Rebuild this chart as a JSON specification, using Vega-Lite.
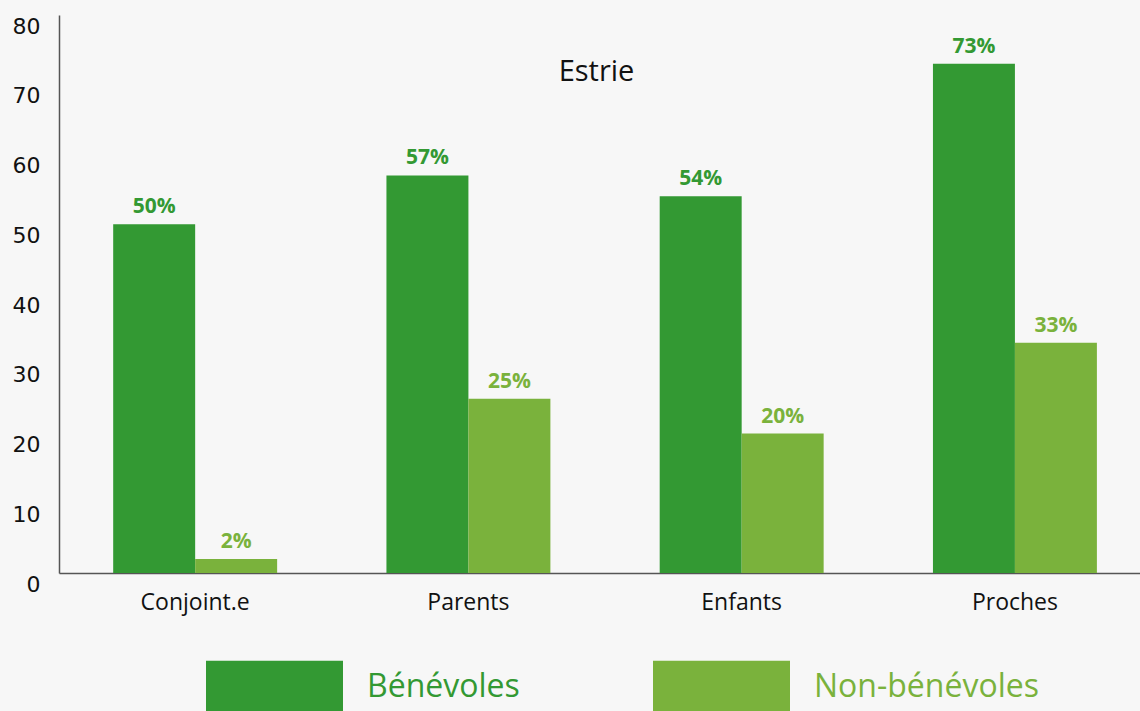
{
  "$schema": "https://vega.github.io/schema/vega-lite/v6.json",
  "width": 1081,
  "height": 558,
  "autosize": {"type": "none"},
  "padding": {"left": 59, "top": 15, "right": 0, "bottom": 138},
  "background": "#f7f7f7",
  "title": {
    "text": "Estrie",
    "orient": "top",
    "anchor": "middle",
    "frame": "group",
    "offset": -86,
    "baseline": "middle",
    "dx": -3,
    "font": "Open Sans",
    "fontSize": 29,
    "fontWeight": "normal",
    "color": "#111111"
  },
  "config": {"view": {"stroke": null}},
  "data": {
    "values": [
      {"cat": "Conjoint.e", "group": "Bénévoles", "value": 50, "label": "50%"},
      {"cat": "Conjoint.e", "group": "Non-bénévoles", "value": 2, "label": "2%"},
      {"cat": "Parents", "group": "Bénévoles", "value": 57, "label": "57%"},
      {"cat": "Parents", "group": "Non-bénévoles", "value": 25, "label": "25%"},
      {"cat": "Enfants", "group": "Bénévoles", "value": 54, "label": "54%"},
      {"cat": "Enfants", "group": "Non-bénévoles", "value": 20, "label": "20%"},
      {"cat": "Proches", "group": "Bénévoles", "value": 73, "label": "73%"},
      {"cat": "Proches", "group": "Non-bénévoles", "value": 33, "label": "33%"}
    ]
  },
  "encoding": {
    "x": {
      "field": "cat",
      "type": "nominal",
      "sort": ["Conjoint.e", "Parents", "Enfants", "Proches"],
      "scale": {"paddingInner": 0.4, "paddingOuter": 0.178, "align": 0.557},
      "axis": {
        "title": null,
        "labelAngle": 0,
        "ticks": false,
        "domainColor": "#555555",
        "domainWidth": 1.5,
        "labelFont": "Open Sans",
        "labelFontSize": 23,
        "labelColor": "#111111",
        "labelPadding": 18
      }
    },
    "xOffset": {"field": "group", "type": "nominal", "sort": ["Bénévoles", "Non-bénévoles"], "scale": {"paddingInner": 0}},
    "y": {
      "field": "value",
      "type": "quantitative",
      "stack": null,
      "scale": {"domain": [0, 80]},
      "axis": {
        "title": null,
        "values": [0, 10, 20, 30, 40, 50, 60, 70, 80],
        "grid": false,
        "ticks": false,
        "domainColor": "#555555",
        "domainWidth": 1.5,
        "labelFont": "DejaVu Sans",
        "labelFontSize": 22,
        "labelColor": "#111111",
        "labelPadding": 19,
        "labelOffset": 11,
        "labelFlush": false,
        "labelOverlap": false
      }
    },
    "color": {
      "field": "group",
      "type": "nominal",
      "sort": ["Bénévoles", "Non-bénévoles"],
      "scale": {"domain": ["Bénévoles", "Non-bénévoles"], "range": ["#339933", "#7ab23c"]},
      "legend": {
        "title": null,
        "orient": "none",
        "legendX": 147,
        "legendY": 603,
        "direction": "horizontal",
        "columns": 2,
        "symbolType": "M-1,-0.38L1,-0.38L1,0.38L-1,0.38Z",
        "symbolSize": 18769,
        "symbolStrokeWidth": 0,
        "symbolOpacity": 1,
        "labelFont": "Open Sans",
        "labelFontSize": 32,
        "labelOffset": 24,
        "labelLimit": 400,
        "columnPadding": 133,
        "labelColor": {"expr": "datum.value == 'Bénévoles' ? '#339933' : '#7ab23c'"}
      }
    }
  },
  "layer": [
    {"mark": {"type": "bar", "opacity": 1}},
    {
      "mark": {"type": "text", "baseline": "bottom", "dy": -7, "font": "Open Sans", "fontSize": 21, "fontWeight": "bold"},
      "encoding": {"text": {"field": "label", "type": "nominal"}}
    }
  ]
}
